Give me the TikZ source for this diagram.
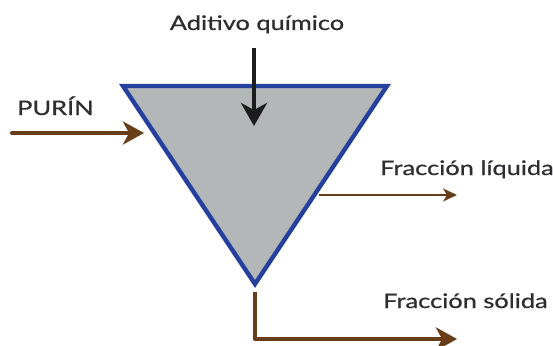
\documentclass[tikz,border=0pt]{standalone}
\usepackage{fontspec}
\setmainfont{Lato}
\newfontfamily\lblfont[FakeBold=0.6]{Lato}
\usetikzlibrary{arrows.meta}
\definecolor{tankblue}{RGB}{38,64,158}
\definecolor{tankgray}{RGB}{180,183,183}
\definecolor{flowbrown}{RGB}{104,62,24}
\definecolor{inkblack}{RGB}{28,28,28}
\definecolor{labelink}{RGB}{45,45,50}
\newcommand{\widelbl}[1]{\scalebox{1.27}[1]{#1}}
\tikzset{
  lbl/.style={font=\lblfont\fontsize{20}{24}\selectfont, text=labelink, inner sep=0pt},
  thickflow/.style={draw=flowbrown, line width=4pt, -{Stealth[length=21pt,width=23pt,inset=6pt]}},
  thinflow/.style={draw=flowbrown, line width=1.6pt, -{Stealth[length=14pt,width=13pt,inset=4pt]}},
}
\begin{document}
\begin{tikzpicture}[x=1pt,y=-1pt]
\useasboundingbox (0,0) rectangle (553,345);
% tank
\coordinate (tl) at (123,86);
\coordinate (tr) at (387,86);
\coordinate (ap) at (255,284);
\draw[tankblue, fill=tankgray, line width=4.4pt, line join=miter] (tl) -- (tr) -- (ap) -- cycle;
% additive
\node[lbl, anchor=base] (adit) at (257,30) {\widelbl{Aditivo químico}};
\coordinate (a0) at (254,48);
\coordinate (a1) at (254,126);
\draw[inkblack, line width=4pt, -{Stealth[length=23pt,width=26pt,inset=7pt]}] (a0) -- (a1);
% purin
\node[lbl, anchor=base west] (purin) at (17,115) {\widelbl{PURÍN}};
\coordinate (p0) at (12,133);
\coordinate (p1) at (144,133);
\draw[thickflow, line cap=round] (p0) -- (p1);
% liquid
\node[lbl, anchor=base west] (liq) at (380,175) {\widelbl{Fracción líquida}};
\coordinate (l0) at (319,195);
\coordinate (l1) at (457,195);
\draw[thinflow] (l0) -- (l1);
% solid
\node[lbl, anchor=base west] (sol) at (383,308) {\widelbl{Fracción sólida}};
\coordinate (s0) at (255,292);
\coordinate (s1) at (457,339);
\draw[thickflow, line join=round] (s0) |- (s1);
\end{tikzpicture}
\end{document}
